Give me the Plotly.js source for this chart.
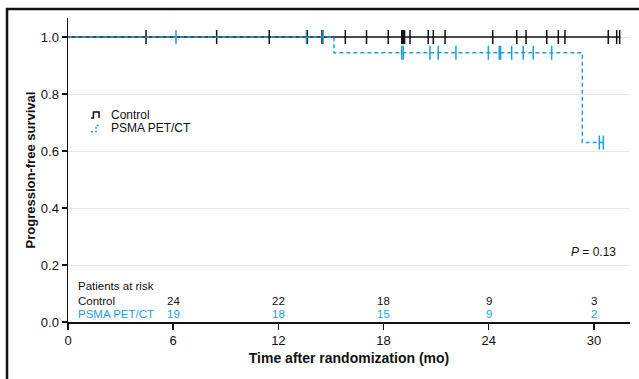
<!DOCTYPE html>
<html>
<head>
<meta charset="utf-8">
<script src="https://cdn.plot.ly/plotly-3.0.1.min.js"></script>
<style>
  html, body { margin: 0; padding: 0; background: #fff; }
  #chart { width: 639px; height: 379px; }
</style>
</head>
<body>
<div id="chart"></div>
<script>
// ---- Data ----
const controlStepT = [0, 31.5];
const controlStepS = [1.0, 1.0];
const controlCensorT = [4.45, 8.48, 11.48, 13.65, 14.49, 15.82, 17.03, 18.27, 19.04, 19.08, 19.13, 19.2, 19.51, 20.55, 20.84, 21.51, 24.23, 25.60, 26.13, 27.31, 27.97, 28.35, 30.82, 31.30, 31.47];
const controlCensorS = controlCensorT.map(() => 1.0);

const psmaStepT = [0, 15.17, 29.34, 30.54];
const psmaStepS = [1.0, 0.945, 0.63, 0.63];
const psmaCensorT = [6.16, 13.6, 14.56, 19.04, 19.13, 20.65, 21.12, 22.13, 23.98, 24.60, 24.68, 25.31, 25.97, 26.54, 27.59, 30.31, 30.54];
const psmaCensorS = [1.0, 1.0, 1.0, 0.945, 0.945, 0.945, 0.945, 0.945, 0.945, 0.945, 0.945, 0.945, 0.945, 0.945, 0.945, 0.63, 0.63];

const riskTimes = [6, 12, 18, 24, 30];
const riskControl = [24, 22, 18, 9, 3];
const riskPsma = [19, 18, 15, 9, 2];

const xTicks = [0, 6, 12, 18, 24, 30];
const yTicks = [0.0, 0.2, 0.4, 0.6, 0.8, 1.0];
const yTickText = ["0.0", "0.2", "0.4", "0.6", "0.8", "1.0"];

const seriesNames = ["Control", "PSMA PET/CT"];
const pValueText = "<i>P</i> = 0.13";

// ---- Styles ----
const BLACK = "#111111";
const BLUE = "#1a9fe3";
const FONT = "Liberation Sans, Arial, sans-serif";

const traces = [
  { x: controlStepT, y: controlStepS, mode: "lines", line: { shape: "hv", color: BLACK, width: 1.5 }, hoverinfo: "skip", showlegend: false },
  { x: controlCensorT, y: controlCensorS, mode: "markers", marker: { symbol: "line-ns-open", size: 10, color: BLACK, line: { color: BLACK, width: 1.5 } }, hoverinfo: "skip", showlegend: false },
  { x: psmaStepT, y: psmaStepS, mode: "lines", line: { shape: "hv", color: BLUE, width: 1.5, dash: "4px,3px" }, hoverinfo: "skip", showlegend: false },
  { x: psmaCensorT, y: psmaCensorS, mode: "markers", marker: { symbol: "line-ns-open", size: 10, color: BLUE, line: { color: BLUE, width: 1.5 } }, hoverinfo: "skip", showlegend: false }
];

const TFS = 12;
const RFS = 11.5;
const annotations = [];
// legend texts
annotations.push({ xref: "paper", yref: "y", x: 0.073, y: 0.727, text: seriesNames[0], showarrow: false, xanchor: "left", yanchor: "middle", font: { family: FONT, size: TFS, color: BLACK } });
annotations.push({ xref: "paper", yref: "y", x: 0.073, y: 0.680, text: seriesNames[1], showarrow: false, xanchor: "left", yanchor: "middle", font: { family: FONT, size: TFS, color: BLACK } });
// P value
annotations.push({ xref: "paper", yref: "y", x: 0.979, y: 0.247, text: pValueText, showarrow: false, xanchor: "right", yanchor: "middle", font: { family: FONT, size: TFS, color: BLACK } });
// risk table
annotations.push({ xref: "paper", yref: "y", x: 0.014, y: 0.125, text: "Patients at risk", showarrow: false, xanchor: "left", yanchor: "middle", font: { family: FONT, size: RFS, color: BLACK } });
annotations.push({ xref: "paper", yref: "y", x: 0.014, y: 0.075, text: seriesNames[0], showarrow: false, xanchor: "left", yanchor: "middle", font: { family: FONT, size: RFS, color: BLACK } });
annotations.push({ xref: "paper", yref: "y", x: 0.014, y: 0.027, text: seriesNames[1], showarrow: false, xanchor: "left", yanchor: "middle", font: { family: FONT, size: RFS, color: BLUE } });
riskTimes.forEach((t, i) => {
  annotations.push({ xref: "x", yref: "y", x: t, y: 0.075, text: String(riskControl[i]), showarrow: false, xanchor: "center", yanchor: "middle", font: { family: FONT, size: RFS, color: BLACK } });
  annotations.push({ xref: "x", yref: "y", x: t, y: 0.027, text: String(riskPsma[i]), showarrow: false, xanchor: "center", yanchor: "middle", font: { family: FONT, size: RFS, color: BLUE } });
});

const shapes = [
  // outer frame (left/top visible)
  { type: "rect", xref: "paper", yref: "paper", x0: -0.1085, x1: 1.2, y0: -0.5, y1: 1.0296, line: { color: BLACK, width: 2.5 }, fillcolor: "rgba(0,0,0,0)" },
  // legend icons
  { type: "path", xref: "x", yref: "y", path: "M1.31,0.716 L1.45,0.716 L1.45,0.737 L1.77,0.737 L1.77,0.716", line: { color: BLACK, width: 1.5 } },
  { type: "path", xref: "x", yref: "y", path: "M1.31,0.668 L1.6,0.668 L1.6,0.69 L1.8,0.69", line: { color: BLUE, width: 1.5, dash: "2px,2px" } }
];

const layout = {
  width: 639, height: 379,
  margin: { l: 68, r: 9, t: 18, b: 57 },
  paper_bgcolor: "#ffffff", plot_bgcolor: "#ffffff",
  font: { family: FONT, size: 13, color: BLACK },
  showlegend: false,
  xaxis: {
    range: [0, 32.06], tickvals: xTicks, ticktext: xTicks.map(String),
    showgrid: false, zeroline: false, showline: true, linecolor: BLACK, linewidth: 1.5,
    ticks: "outside", ticklen: 6, tickwidth: 1.5, tickcolor: BLACK,
    tickfont: { family: FONT, size: 13, color: BLACK },
    title: { text: "<b>Time after randomization (mo)</b>", font: { family: FONT, size: 14, color: BLACK }, standoff: 6 }
  },
  yaxis: {
    range: [0, 1.067], tickvals: yTicks, ticktext: yTickText,
    showgrid: true, gridcolor: "#e6e6e6", gridwidth: 1,
    zeroline: false, showline: true, linecolor: BLACK, linewidth: 1.5,
    ticks: "outside", ticklen: 5, tickwidth: 1.5, tickcolor: BLACK,
    tickfont: { family: FONT, size: 13, color: BLACK },
    title: { text: "<b>Progression-free survival</b>", font: { family: FONT, size: 13, color: BLACK }, standoff: 2 }
  },
  annotations: annotations,
  shapes: shapes
};

Plotly.newPlot("chart", traces, layout, { staticPlot: true, displayModeBar: false });
</script>
</body>
</html>
